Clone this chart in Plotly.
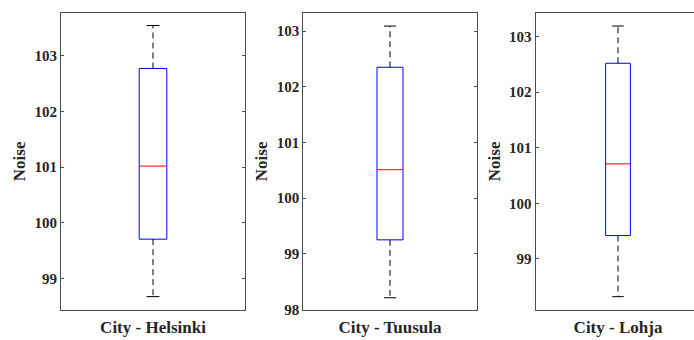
import plotly.graph_objects as go

cities = ["City - Helsinki", "City - Tuusula", "City - Lohja"]
lower_whisker = [98.68, 98.21, 98.32]
q1 = [99.71, 99.25, 99.42]
median = [101.02, 100.51, 100.71]
q3 = [102.77, 102.35, 102.52]
upper_whisker = [103.54, 103.09, 103.19]
y_ranges = [[98.44, 103.77], [97.99, 103.33], [98.08, 103.43]]
y_ticks = [[99, 100, 101, 102, 103], [98, 99, 100, 101, 102, 103], [99, 100, 101, 102, 103]]

W, H = 694, 340
x_pix = [(61, 245), (303.3, 476.7), (535.5, 700.5)]
y_top, y_bot = 12.7, 310

fig = go.Figure()
FONT = "Liberation Serif"
AX = "#4d4d4d"
TXT = "#262626"
pos = 1.0
bw = 0.075
cw = 0.035

for i, city in enumerate(cities):
    xa = "x" if i == 0 else f"x{i+1}"
    ya = "y" if i == 0 else f"y{i+1}"
    fig.add_trace(go.Scatter(
        x=[pos - bw, pos + bw, pos + bw, pos - bw, pos - bw],
        y=[q1[i], q1[i], q3[i], q3[i], q1[i]],
        mode="lines", line=dict(color="#0000ff", width=1),
        xaxis=xa, yaxis=ya, showlegend=False, hoverinfo="skip"))
    fig.add_trace(go.Scatter(
        x=[pos - bw, pos + bw], y=[median[i], median[i]],
        mode="lines", line=dict(color="#ff0000", width=1),
        xaxis=xa, yaxis=ya, showlegend=False, hoverinfo="skip"))
    for a, b in [(q3[i], upper_whisker[i]), (q1[i], lower_whisker[i])]:
        fig.add_trace(go.Scatter(
            x=[pos, pos], y=[a, b], mode="lines",
            line=dict(color="black", width=1, dash="6px,4px"),
            xaxis=xa, yaxis=ya, showlegend=False, hoverinfo="skip"))
    for v in [upper_whisker[i], lower_whisker[i]]:
        fig.add_trace(go.Scatter(
            x=[pos - cw, pos + cw], y=[v, v], mode="lines",
            line=dict(color="black", width=1),
            xaxis=xa, yaxis=ya, showlegend=False, hoverinfo="skip"))

    x0, x1 = x_pix[i]
    d0 = x0 / W
    d1 = min(x1, W) / W
    xr1 = 0.5 + (min(x1, W) - x0) / (x1 - x0)
    last = x1 > W
    xkey = "xaxis" if i == 0 else f"xaxis{i+1}"
    ykey = "yaxis" if i == 0 else f"yaxis{i+1}"
    fig.update_layout({
        xkey: dict(domain=[d0, d1], range=[0.5, xr1], anchor=ya,
                   tickmode="array", tickvals=[pos], ticktext=[city],
                   ticks="", showgrid=False, zeroline=False,
                   showline=True, linecolor=AX, linewidth=1, mirror=True,
                   ticklabelstandoff=2,
                   tickfont=dict(family=FONT, size=17, color=TXT, weight="bold"),
                   fixedrange=True),
        ykey: dict(domain=[1 - y_bot / H, 1 - y_top / H], range=y_ranges[i],
                   anchor=xa, tickmode="array", tickvals=y_ticks[i],
                   ticks="inside", ticklen=3, tickcolor=AX,
                   showgrid=False, zeroline=False, showline=True,
                   linecolor=AX, linewidth=1,
                   mirror=(False if last else "ticks"),
                   tickfont=dict(family=FONT, size=15, color=TXT, weight="bold"),
                   title=dict(text="Noise", standoff=4,
                              font=dict(family=FONT, size=17, color=TXT, weight="bold")),
                   fixedrange=True),
    })

fig.update_layout(
    width=W, height=H,
    margin=dict(l=0, r=0, t=0, b=0),
    plot_bgcolor="white", paper_bgcolor="white",
    font=dict(family=FONT, color=TXT),
)
fig.update_xaxes(automargin=False)
fig.update_yaxes(automargin=False)

fig.write_html("out.html", config={"displayModeBar": False},
               post_script="document.body.style.margin='0';document.body.style.overflow='hidden';")
